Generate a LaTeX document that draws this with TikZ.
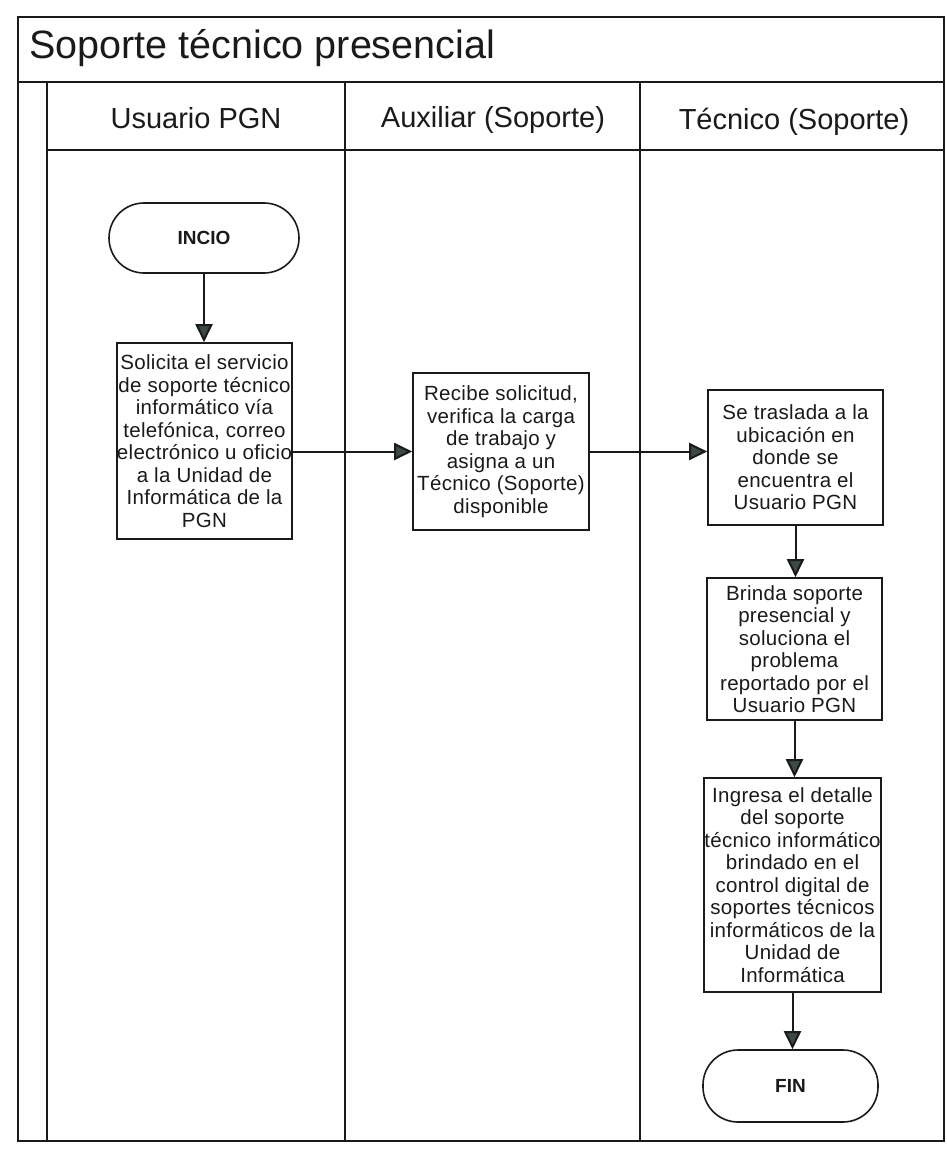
\documentclass[tikz,border=0pt]{standalone}
\usepackage{fontspec}
\setmainfont{Liberation Sans}
\newfontfamily\bodyfont[LetterSpace=1.5]{Liberation Sans}
\usetikzlibrary{arrows.meta}
\definecolor{ink}{HTML}{1A1A1A}
\definecolor{tipc}{HTML}{3B4A44}
\tikzset{
  frameline/.style={draw=ink, line width=2pt},
  laneline/.style={draw=ink, line width=1.3pt},
  proc/.style={draw=ink, line width=1.6pt, rectangle, align=center, inner xsep=0pt, inner ysep=2pt,
    text=ink, font=\bodyfont\fontsize{20.5}{22.5}\selectfont},
  term/.style={draw=ink, line width=1.6pt, rectangle, rounded corners=35pt, align=center,
    text=ink, font=\fontsize{19}{22}\selectfont\bfseries},
  hdr/.style={text=ink, font=\fontsize{29}{34}\selectfont},
  arr/.style={draw=ink, line width=2pt, -{Triangle[width=17pt,length=18pt,fill=tipc]}},
}
\begin{document}
\begin{tikzpicture}[x=1pt,y=-1pt]
\useasboundingbox (0,0) rectangle (946,1169);
\fill[white] (0,0) rectangle (946,1169);
% frame
\draw[frameline] (18,17) rectangle (944,1141);
\draw[frameline] (18,82) -- (944,82);
\draw[frameline] (47,150) -- (944,150);
\draw[laneline] (47,82) -- (47,1141);
\draw[laneline] (345,82) -- (345,1141);
\draw[laneline] (640,82) -- (640,1141);
% title and headers
\node[anchor=west, text=ink, font=\fontsize{39.5}{44}\selectfont] (title) at (26,48) {Soporte técnico presencial};
\node[hdr] (h1) at (196,118) {Usuario PGN};
\node[hdr] (h2) at (493,120) {Auxiliar (Soporte)};
\node[hdr] (h3) at (794,122) {Técnico (Soporte)};
% nodes
\node[term, minimum width=190pt, minimum height=70pt] (inicio) at (204,238) {INCIO};
\node[proc, minimum width=175pt, minimum height=196pt] (solicita) at (204.5,441) {Solicita el servicio\\de soporte técnico\\informático vía\\telefónica, correo\\electrónico u oficio\\a la Unidad de\\Informática de la\\PGN};
\node[proc, minimum width=176pt, minimum height=157pt] (recibe) at (501,451.5) {Recibe solicitud,\\verifica la carga\\de trabajo y\\asigna a un\\Técnico (Soporte)\\disponible};
\node[proc, minimum width=175pt, minimum height=135pt] (traslada) at (795.5,457.5) {Se traslada a la\\ubicación en\\donde se\\encuentra el\\Usuario PGN};
\node[proc, minimum width=175pt, minimum height=142pt] (brinda) at (794.5,649) {Brinda soporte\\presencial y\\soluciona el\\problema\\reportado por el\\Usuario PGN};
\node[proc, minimum width=177pt, minimum height=214pt] (ingresa) at (792.5,885) {Ingresa el detalle\\del soporte\\técnico informático\\brindado en el\\control digital de\\soportes técnicos\\informáticos de la\\Unidad de\\Informática};
\node[term, minimum width=175pt, minimum height=72pt] (fin) at (790.5,1086) {FIN};
% connectors
\draw[arr] (inicio.south) -- (inicio.south |- solicita.north);
\draw[arr] (solicita.east |- recibe.west) -- (recibe.west);
\draw[arr] (recibe.east) -- (traslada.west |- recibe.east);
\draw[arr] (traslada.south) -- (traslada.south |- brinda.north);
\draw[arr] (brinda.south) -- (brinda.south |- ingresa.north);
\draw[arr] (ingresa.south) -- (ingresa.south |- fin.north);
\end{tikzpicture}
\end{document}
